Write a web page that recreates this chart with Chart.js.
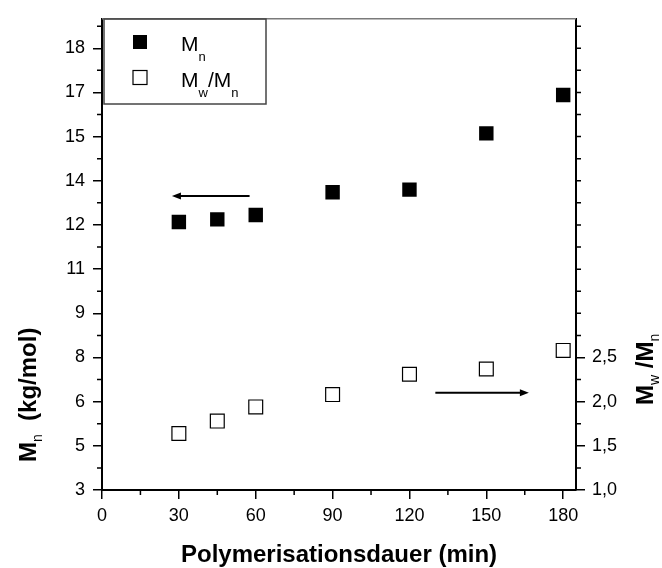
<!DOCTYPE html>
<html>
<head>
<meta charset="utf-8">
<script src="https://cdn.jsdelivr.net/npm/chart.js@4.4.0/dist/chart.umd.min.js"></script>
<style>
body { margin: 0; background: #fff; }
#wrap { width: 662px; height: 568px; }
</style>
</head>
<body>
<div id="wrap"><canvas id="chart" width="662" height="568"></canvas></div>
<script>
// Daten
var dauer = [30, 45, 60, 90, 120, 150, 180];
var mn = [12.10, 12.19, 12.34, 13.11, 13.20, 15.11, 16.41];
var pdi = [1.64, 1.78, 1.94, 2.08, 2.31, 2.37, 2.58];

// Achsen
var xTicks = [0, 30, 60, 90, 120, 150, 180];
var xMinor = [15, 45, 75, 105, 135, 165];
var yTicks = [3, 4.5, 6, 7.5, 9, 10.5, 12, 13.5, 15, 16.5, 18];
var yLabels = ['3', '5', '6', '8', '9', '11', '12', '14', '15', '17', '18'];
var yMinor = [3.75, 5.25, 6.75, 8.25, 9.75, 11.25, 12.75, 14.25, 15.75, 17.25, 18.75];
var y2Ticks = [1, 1.5, 2, 2.5];
var y2Labels = ['1,0', '1,5', '2,0', '2,5'];
var y2Minor = [1.25, 1.75, 2.25, 2.75, 3, 3.25, 3.5, 3.75, 4, 4.25, 4.5, 4.75, 5, 5.25, 5.5, 5.75, 6, 6.25];

var FONT = '"Liberation Sans", Arial, sans-serif';

function drawRich(c, parts, x, y) {
    var cx = x;
    parts.forEach(function(p) {
        c.font = (p.bold ? 'bold ' : '') + p.size + 'px ' + FONT;
        c.fillText(p.t, cx, y + (p.dy || 0));
        cx += c.measureText(p.t).width;
    });
    return cx - x;
}

function arrow(c, x1, y1, x2, y2) {
    var dir = x2 > x1 ? 1 : -1;
    c.lineWidth = 2;
    c.beginPath();
    c.moveTo(x1, y1);
    c.lineTo(x2 - dir * 6, y2);
    c.stroke();
    c.beginPath();
    c.moveTo(x2, y2);
    c.lineTo(x2 - dir * 9, y2 - 3.5);
    c.lineTo(x2 - dir * 9, y2 + 3.5);
    c.closePath();
    c.fill();
}

// Extras: kleine Striche, Legende, Pfeile, Titel
var extras = {
    id: 'extras',
    afterDraw: function(chart) {
        var c = chart.ctx;
        var a = chart.chartArea;
        var sx = chart.scales.x, sy = chart.scales.y, sy2 = chart.scales.y2;
        c.save();
        c.strokeStyle = '#000';
        c.fillStyle = '#000';
        c.lineWidth = 1.5;

        // minor ticks
        c.beginPath();
        xMinor.forEach(function(v) {
            var px = sx.getPixelForValue(v);
            c.moveTo(px, a.bottom); c.lineTo(px, a.bottom + 5);
        });
        yMinor.forEach(function(v) {
            var py = sy.getPixelForValue(v);
            c.moveTo(a.left - 5, py); c.lineTo(a.left, py);
        });
        y2Minor.forEach(function(v) {
            var py = sy2.getPixelForValue(v);
            c.moveTo(a.right, py); c.lineTo(a.right + 5, py);
        });
        c.stroke();

        // top border
        c.strokeStyle = '#7a7a7a';
        c.beginPath();
        c.moveTo(a.left, a.top); c.lineTo(a.right, a.top);
        c.stroke();

        // legend
        c.strokeStyle = '#444';
        c.lineWidth = 1.5;
        c.strokeRect(104, 19, 162, 85);
        c.fillStyle = '#000';
        c.fillRect(133, 35, 14, 14);
        c.fillStyle = '#fff';
        c.fillRect(133, 70.5, 14, 14);
        c.strokeStyle = '#000';
        c.lineWidth = 1.2;
        c.strokeRect(133, 70.5, 14, 14);
        c.fillStyle = '#000';
        c.textAlign = 'left';
        c.textBaseline = 'alphabetic';
        drawRich(c, [{t: 'M', size: 21}, {t: 'n', size: 13, dy: 10}], 181, 51);
        drawRich(c, [{t: 'M', size: 21}, {t: 'w', size: 13, dy: 10}, {t: '/M', size: 21}, {t: 'n', size: 13, dy: 10}], 181, 87);

        // arrows
        arrow(c, sx.getPixelForValue(57.6), sy.getPixelForValue(12.98), sx.getPixelForValue(27.3), sy.getPixelForValue(12.98));
        arrow(c, sx.getPixelForValue(130.1), sy2.getPixelForValue(2.10), sx.getPixelForValue(166.6), sy2.getPixelForValue(2.10));

        // x title
        c.font = 'bold 24px ' + FONT;
        c.textAlign = 'center';
        c.fillText('Polymerisationsdauer (min)', (a.left + a.right) / 2, 562);

        // left title
        c.textAlign = 'left';
        c.save();
        c.translate(36, 462);
        c.rotate(-Math.PI / 2);
        drawRich(c, [{t: 'M', size: 24, bold: true}, {t: 'n', size: 14, dy: 6}, {t: '  (kg/mol)', size: 24, bold: true}], 0, 0);
        c.restore();

        // right title
        c.save();
        c.translate(653, 405);
        c.rotate(-Math.PI / 2);
        drawRich(c, [{t: 'M', size: 24, bold: true}, {t: 'w', size: 14, dy: 6}, {t: ' /M', size: 24, bold: true}, {t: 'n', size: 14, dy: 6}], 0, 0);
        c.restore();

        c.restore();
    }
};

var tickGrid = { display: true, drawOnChartArea: false, drawTicks: true, tickLength: 9, color: '#000', lineWidth: 1.5 };

var chart = new Chart(document.getElementById('chart').getContext('2d'), {
    type: 'scatter',
    data: {
        datasets: [
            {
                label: 'Mn',
                data: dauer.map(function(d, i) { return {x: d, y: mn[i]}; }),
                yAxisID: 'y',
                pointStyle: 'rect',
                pointRadius: 10.2,
                backgroundColor: '#000',
                borderColor: '#000',
                borderWidth: 0
            },
            {
                label: 'Mw/Mn',
                data: dauer.map(function(d, i) { return {x: d, y: pdi[i]}; }),
                yAxisID: 'y2',
                pointStyle: 'rect',
                pointRadius: 9.8,
                backgroundColor: '#fff',
                borderColor: '#000',
                borderWidth: 1.2
            }
        ]
    },
    options: {
        responsive: false,
        animation: false,
        devicePixelRatio: 1,
        layout: { padding: { top: 14, left: 0, right: 0, bottom: 0 } },
        plugins: { legend: { display: false }, tooltip: { enabled: false } },
        scales: {
            x: {
                type: 'linear', position: 'bottom', min: 0, max: 185,
                afterBuildTicks: function(s) { s.ticks = xTicks.map(function(v) { return {value: v}; }); },
                afterFit: function(s) { s.height = 78; },
                ticks: { color: '#000', font: { family: FONT, size: 18 }, padding: 6, maxRotation: 0, autoSkip: false,
                    callback: function(v) { return String(v); } },
                grid: tickGrid,
                border: { display: true, color: '#000', width: 2 }
            },
            y: {
                type: 'linear', position: 'left', min: 3, max: 19,
                afterBuildTicks: function(s) { s.ticks = yTicks.map(function(v) { return {value: v}; }); },
                afterFit: function(s) { s.width = 102; },
                ticks: { color: '#000', font: { family: FONT, size: 18 }, padding: 8, autoSkip: false,
                    callback: function(v) { return yLabels[yTicks.indexOf(v)]; } },
                grid: tickGrid,
                border: { display: true, color: '#000', width: 2 }
            },
            y2: {
                type: 'linear', position: 'right', min: 1, max: 1 + 16 / 3,
                afterBuildTicks: function(s) { s.ticks = y2Ticks.map(function(v) { return {value: v}; }); },
                afterFit: function(s) { s.width = 86; },
                ticks: { color: '#000', font: { family: FONT, size: 18 }, padding: 7, autoSkip: false,
                    callback: function(v) { return y2Labels[y2Ticks.indexOf(v)]; } },
                grid: tickGrid,
                border: { display: true, color: '#000', width: 2 }
            }
        }
    },
    plugins: [extras]
});
</script>
</body>
</html>
